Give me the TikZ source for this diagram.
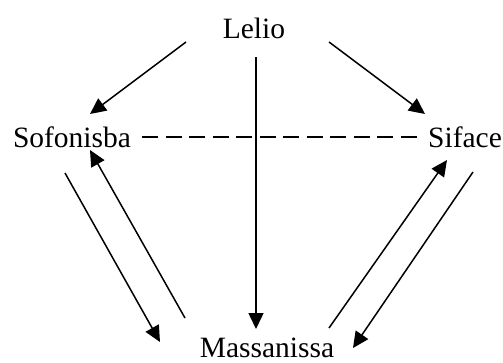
\documentclass[tikz,border=0pt]{standalone}
\usepackage{fontspec}
\setmainfont{Liberation Serif}
\usetikzlibrary{arrows.meta}
\begin{document}
\begin{tikzpicture}[x=1pt,y=-1pt,
  person/.style={inner sep=0pt, anchor=base, font=\fontsize{29.5}{34}\selectfont},
  arr/.style={line width=1.5pt, -{Triangle[length=16pt,width=15pt]}},
  rel/.style={line width=1.3pt, dash pattern=on 16pt off 7.5pt}]
\useasboundingbox (0,0) rectangle (503,362);

% characters
\node[person] (lelio) at (254,38) {Lelio};
\node[person] (sofonisba) at (72,147) {Sofonisba};
\node[person] (siface) at (465,147) {Siface};
\node[person] (massanissa) at (267,357) {Massanissa};

% connector end points
\coordinate (ls0) at (186,42);  \coordinate (ls1) at (90,114);
\coordinate (lf0) at (329,42);  \coordinate (lf1) at (425,114);
\coordinate (lm0) at (256,57);  \coordinate (lm1) at (256,329);
\coordinate (sm0) at (65,173);  \coordinate (sm1) at (160,342);
\coordinate (ms0) at (185,318); \coordinate (ms1) at (90,150);
\coordinate (mf0) at (329,328); \coordinate (mf1) at (447,160);
\coordinate (fm0) at (473,172); \coordinate (fm1) at (353,348);
\coordinate (d0) at (142,137);  \coordinate (d1) at (422,137);

% relations
\draw[arr] (ls0) -- (ls1);
\draw[arr] (lf0) -- (lf1);
\draw[arr] (lm0) -- (lm1);
\draw[arr] (sm0) -- (sm1);
\draw[arr] (ms0) -- (ms1);
\draw[arr] (mf0) -- (mf1);
\draw[arr] (fm0) -- (fm1);
\draw[rel] (d0) -- (d1);
\end{tikzpicture}
\end{document}
